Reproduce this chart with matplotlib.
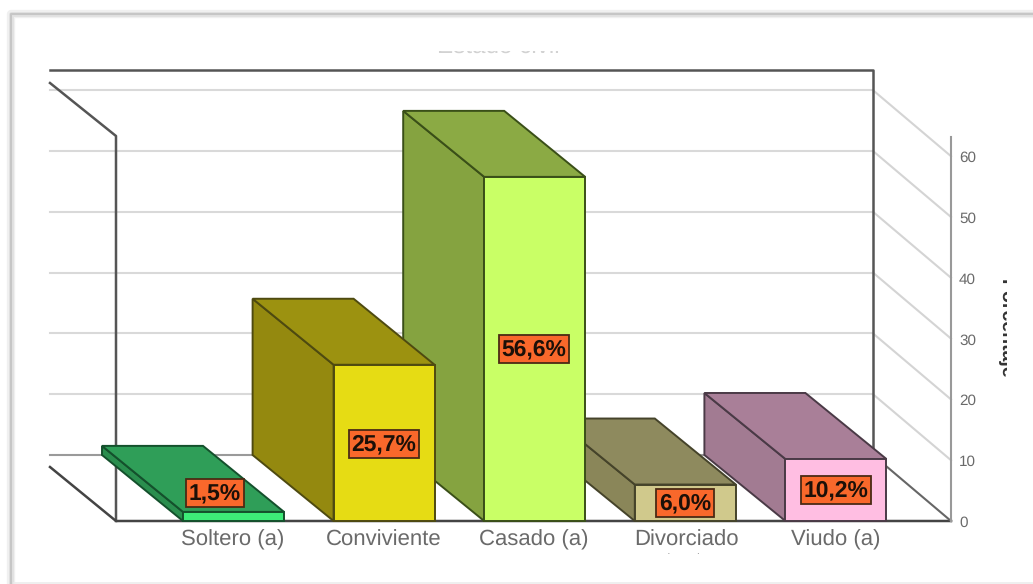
import numpy as np
import matplotlib
matplotlib.use('Agg')
import matplotlib.pyplot as plt
from matplotlib.patches import Polygon, Rectangle

plt.rcParams['font.family'] = ['Liberation Sans', 'DejaVu Sans']
plt.rcParams['text.hinting'] = 'no_hinting'

categories = ['Soltero (a)', 'Conviviente', 'Casado (a)', 'Divorciado', 'Viudo (a)']
values = [1.5, 25.7, 56.6, 6.0, 10.2]
labels = ['1,5%', '25,7%', '56,6%', '6,0%', '10,2%']
front_colors = ['#3DEB78', '#E6DC14', '#C9FF66', '#D0C98C', '#FFBEE2']
top_colors = ['#2F9E58', '#9C9210', '#8BAA44', '#8E8A5E', '#A97F98']
side_colors = ['#2A8E4E', '#94890F', '#85A340', '#8A8659', '#A27B92']
edge_colors = ['#14502C', '#4E4A10', '#3A4F18', '#45432A', '#4A3A46']
yticks = [0, 10, 20, 30, 40, 50, 60]

# bars are drawn back to front, this is the overlap seen in the picture
draw_order = [3, 2, 1, 0, 4]

PX_PER_UNIT = 6.08
Y0_PX = 521
DEPTH_X = 81
DEPTH_Y = 66 / PX_PER_UNIT
BAR_X0 = 183
BAR_STEP = 150.6
BAR_W = 101


def y_of(py):
    return (Y0_PX - py) / PX_PER_UNIT


fig = plt.figure(figsize=(10.33, 5.84), dpi=100, facecolor='white')
ax = fig.add_axes([0, 0, 1, 1])
ax.set_xlim(0, 1033)
ax.set_ylim(y_of(584), y_of(0))
ax.axis('off')

# soft border of the card, only left and top are clearly there
for lw, col in [(6, '#f0f0f0'), (3.5, '#e2e2e2'), (1.5, '#c6c6c6')]:
    ax.plot([11, 11, 1033], [y_of(584), y_of(14), y_of(14)], color=col, lw=lw, zorder=1)
ax.plot([14, 1033], [y_of(583), y_of(583)], color='#ececec', lw=1.2, zorder=1)

# gridlines on back wall and right wall
for v in yticks[1:]:
    ax.plot([50, 873], [v + DEPTH_Y] * 2, color='#d9d9d9', lw=1.5, zorder=2)
    ax.plot([873, 951], [v + DEPTH_Y, v], color='#d4d4d4', lw=1.5, zorder=2)
ax.plot([50, 873], [DEPTH_Y, DEPTH_Y], color='#9a9a9a', lw=1.5, zorder=2)

# frame of the box
frame = '#555555'
ax.plot([50, 873, 873], [y_of(70), y_of(70), DEPTH_Y], color=frame, lw=1.8, zorder=3)
ax.plot([50, 116, 116], [y_of(83), y_of(136), 0], color=frame, lw=1.8, zorder=3)
ax.plot([50, 116, 951], [y_of(467), 0, 0], color='#444444', lw=1.8, zorder=3)
ax.plot([873, 951], [DEPTH_Y, 0], color='#666666', lw=1.5, zorder=3)
ax.plot([951, 951], [0, y_of(137)], color='#999999', lw=1.5, zorder=3)

# bars
for n, i in enumerate(draw_order):
    x0 = BAR_X0 + i * BAR_STEP
    x1 = x0 + BAR_W
    h = values[i]
    z = 5 + n
    ec = edge_colors[i]
    ax.add_patch(Polygon([(x0, 0), (x0, h), (x0 - DEPTH_X, h + DEPTH_Y), (x0 - DEPTH_X, DEPTH_Y)],
                         fc=side_colors[i], ec=ec, lw=1.4, zorder=z))
    ax.add_patch(Polygon([(x0, h), (x1, h), (x1 - DEPTH_X, h + DEPTH_Y), (x0 - DEPTH_X, h + DEPTH_Y)],
                         fc=top_colors[i], ec=ec, lw=1.4, zorder=z))
    ax.add_patch(Polygon([(x0, 0), (x1, 0), (x1, h), (x0, h)],
                         fc=front_colors[i], ec=ec, lw=1.4, zorder=z))

# value labels
label_x = [215, 384, 534, 685, 836]
label_py = [493, 444, 349, 503, 490]
for x, py, s in zip(label_x, label_py, labels):
    ax.text(x, y_of(py), s, ha='center', va='center', fontsize=16.5, color='#1c1008',
            fontweight='bold', zorder=20,
            bbox=dict(boxstyle='square,pad=0.13', fc='#F9682B', ec='#4a2a14', lw=1.3))

# category labels
cat_x = [233, 384, 534, 686, 836]
for x, s in zip(cat_x, categories):
    ax.text(x, y_of(540), s, ha='center', va='center', fontsize=15.9, color='#6a6a6a', zorder=20)

# right axis tick labels
for v in yticks:
    ax.text(959, y_of(Y0_PX + 2 - v * PX_PER_UNIT), str(v), ha='left', va='center',
            fontsize=11, color='#6a6a6a', zorder=20)

# text cut off in the source image
t = ax.text(1006, y_of(329), 'Porcentaje', rotation=270, ha='center', va='center',
            fontsize=14, color='#333333', fontweight='bold', zorder=20)
t.set_clip_on(True)
t.set_clip_path(Rectangle((995, y_of(385)), 12, y_of(270) - y_of(385), transform=ax.transData))

# title is only a faint sliver in the source, white patch hides the upper part
ax.text(498, y_of(47), 'Estado civil', ha='center', va='center', fontsize=17.5, color='#d2d2d2', zorder=20)
ax.add_patch(Rectangle((420, y_of(51)), 160, y_of(30) - y_of(51), fc='white', ec='none', zorder=21))

ax.text(684, y_of(554), '.                .', ha='center', va='baseline', fontsize=4.5,
        fontweight='bold', color='#888888', zorder=20)

fig.savefig('out.png', dpi=100)
